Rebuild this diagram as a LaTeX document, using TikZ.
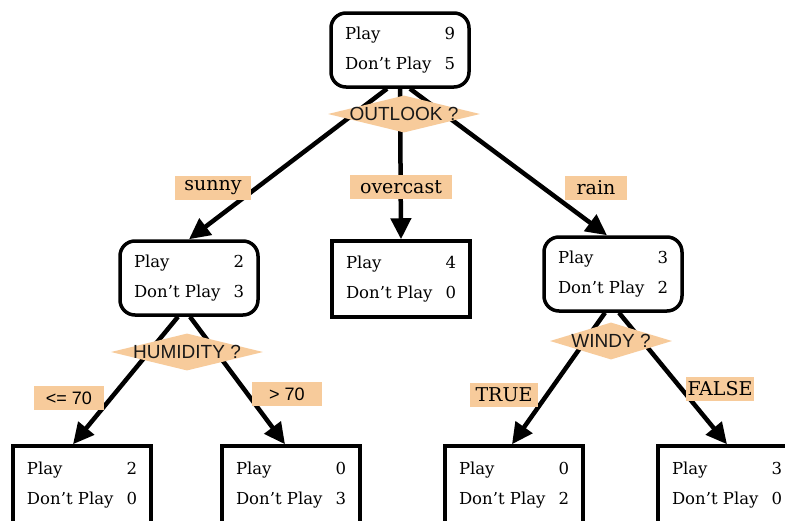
\documentclass[tikz,border=0pt]{standalone}
\usepackage{fontspec}
\setmainfont{DejaVu Serif}
\setsansfont{Liberation Sans}
\usetikzlibrary{shapes.geometric,arrows.meta,calc}
\definecolor{peach}{RGB}{247,203,155}
\definecolor{ink}{RGB}{25,25,25}
\newcommand\pcount[2]{\makebox[110pt]{Play\hfill #1}\\\makebox[110pt]{Don't Play\hfill #2}}
\begin{document}
\begin{tikzpicture}[x=1pt,y=-1pt,
 box/.style={draw,line width=3.5pt,minimum width=138pt,minimum height=74pt,inner sep=0pt,font=\fontsize{16.5}{30}\selectfont,align=center},
 rbox/.style={box,rounded corners=15pt},
 dec/.style={diamond,fill=peach,inner sep=0pt,minimum height=37pt},
 dtext/.style={font=\sffamily\fontsize{19}{19}\selectfont,text=ink,inner sep=0pt},
 lab/.style={fill=peach,inner sep=0pt,minimum height=24pt,font=\fontsize{19}{20}\selectfont},
 slab/.style={lab,font=\sffamily\fontsize{18}{20}\selectfont},
 arr/.style={line width=4.5pt,-{Triangle[length=21pt,width=20pt]}}]
\useasboundingbox[fill=white] (0,0) rectangle (785,520);
% boxes
\node[rbox] (root) at (400,50) {\pcount{9}{5}};
\node[rbox] (sunny) at (189,278) {\pcount{2}{3}};
\node[box,minimum height=76pt] (over) at (401,279) {\pcount{4}{0}};
\node[rbox] (rain) at (613,274) {\pcount{3}{2}};
\node[box,minimum height=78pt] (l1) at (82,485) {\pcount{2}{0}};
\node[box,minimum height=78pt] (l2) at (291,485) {\pcount{0}{3}};
\node[box,minimum height=78pt] (l3) at (514,485) {\pcount{0}{2}};
\node[box,minimum height=78pt] (l4) at (727,485) {\pcount{3}{0}};
% arrows
\draw[arr] ($(root.south)+(-13,0)$) -- (sunny.north);
\draw[arr] (root.south) -- (over.north);
\draw[arr] ($(root.south)+(10,0)$) -- ($(rain.north)+(-6,0)$);
\draw[arr] ($(sunny.south)+(-11,0)$) -- ($(l1.north)+(-9,0)$);
\draw[arr] ($(sunny.south)+(1,0)$) -- ($(l2.north)+(-6,0)$);
\draw[arr] ($(rain.south)+(-8,0)$) -- ($(l3.north)+(-2,0)$);
\draw[arr] ($(rain.south)+(6,0)$) -- (l4.north);
% decisions
\node[dec,minimum width=152pt,label={[dtext]center:OUTLOOK ?}] (d1) at (404,114) {};
\node[dec,minimum width=152pt,label={[dtext]center:HUMIDITY ?}] (d2) at (187,352) {};
\node[dec,minimum width=122pt,label={[dtext]center:WINDY ?}] (d3) at (611,341) {};
% labels
\node[lab,minimum width=76pt] (e1) at (213,188) {sunny};
\node[lab,minimum width=102pt] (e2) at (401,187) {overcast};
\node[lab,minimum width=62pt] (e3) at (596,188) {rain};
\node[slab,minimum width=70pt] (e4) at (69,398) {<= 70};
\node[slab,minimum width=70pt] (e5) at (287,394) {> 70};
\node[lab,minimum width=68pt] (e6) at (504,395) {TRUE};
\node[lab,minimum width=68pt] (e7) at (720,389) {FALSE};
\end{tikzpicture}
\end{document}
